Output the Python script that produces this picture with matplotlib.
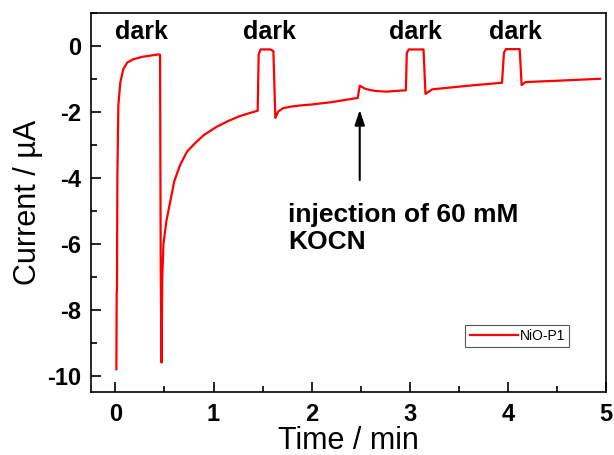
import matplotlib
matplotlib.use("Agg")
import matplotlib.pyplot as plt
from matplotlib.ticker import MultipleLocator

plt.rcParams['font.family'] = ['Liberation Sans', 'DejaVu Sans']
plt.rcParams['axes.unicode_minus'] = False

# photocurrent trace
time_min = [0.010, 0.013, 0.016, 0.020, 0.030, 0.050, 0.080, 0.120, 0.180, 0.280, 0.440,
            0.455, 0.462, 0.470, 0.478, 0.490, 0.520, 0.560, 0.600, 0.660, 0.730,
            0.810, 0.900, 1.030, 1.150, 1.270, 1.380, 1.450, 1.460, 1.480, 1.580,
            1.610, 1.630, 1.660, 1.710, 1.800, 1.880, 2.000, 2.200, 2.470, 2.490,
            2.550, 2.650, 2.760, 2.960, 2.970, 2.990, 3.140, 3.160, 3.230, 3.600,
            3.940, 3.960, 3.980, 4.120, 4.140, 4.180, 4.500, 4.940]
current_uA = [-9.80, -7.50, -7.40, -4.00, -1.80, -1.10, -0.70, -0.50, -0.40, -0.32, -0.25,
              -0.26, -6.80, -9.60, -7.00, -6.00, -5.30, -4.70, -4.10, -3.60, -3.20,
              -2.95, -2.70, -2.45, -2.27, -2.12, -2.02, -1.96, -0.25, -0.10, -0.10,
              -0.15, -2.18, -1.98, -1.88, -1.83, -1.80, -1.77, -1.70, -1.57, -1.20,
              -1.30, -1.36, -1.38, -1.34, -0.20, -0.10, -0.10, -1.45, -1.31, -1.20,
              -1.11, -0.20, -0.09, -0.09, -1.18, -1.09, -1.05, -0.99]

dark_x = [0.27, 1.57, 3.06, 4.08]
dark_label = "dark"
injection_t = 2.49
injection_label = "injection of 60 mM\nKOCN"
series_name = "NiO-P1"

fig = plt.figure(figsize=(6.14, 4.55), dpi=100)
ax = fig.add_axes([0.148, 0.138, 0.839, 0.833])

ax.plot(time_min, current_uA, color="#ff0000", lw=1.6, label=series_name)

for x in dark_x:
    ax.text(x, 0.42, dark_label, ha="center", va="center", fontsize=18, fontweight="bold")

ax.annotate("", xy=(injection_t, -1.85), xytext=(injection_t, -4.15),
            arrowprops=dict(arrowstyle="-|>,head_length=0.9,head_width=0.3",
                            color="black", lw=1.5))
ax.text(1.76, -5.52, injection_label, ha="left", va="center", fontsize=19,
        fontweight="bold", linespacing=1.15)

ax.set_xlim(-0.25, 5)
ax.set_ylim(-10.5, 1)
ax.xaxis.set_major_locator(MultipleLocator(1))
ax.xaxis.set_minor_locator(MultipleLocator(0.5))
ax.yaxis.set_major_locator(MultipleLocator(2))
ax.yaxis.set_minor_locator(MultipleLocator(1))
ax.tick_params(which="both", direction="in", top=False, right=False, width=1.2)
ax.tick_params(which="major", length=7, labelsize=17)
ax.tick_params(axis="x", which="major", pad=8)
ax.tick_params(axis="y", which="major", pad=7)
ax.tick_params(which="minor", length=4)
for lab in ax.get_xticklabels() + ax.get_yticklabels():
    lab.set_fontweight("bold")
for s in ax.spines.values():
    s.set_linewidth(1.2)

ax.set_xlabel("Time / min", fontsize=22, labelpad=0)
ax.set_ylabel("Current / \u00b5A", fontsize=22, labelpad=3)

leg = ax.legend(loc="lower right", bbox_to_anchor=(0.942, 0.1), fontsize=10,
                fancybox=False, edgecolor="#555555", handlelength=3.5,
                handletextpad=0.1, borderpad=0.3, framealpha=1)
leg.get_frame().set_linewidth(0.8)

fig.savefig("out.png", dpi=100)
